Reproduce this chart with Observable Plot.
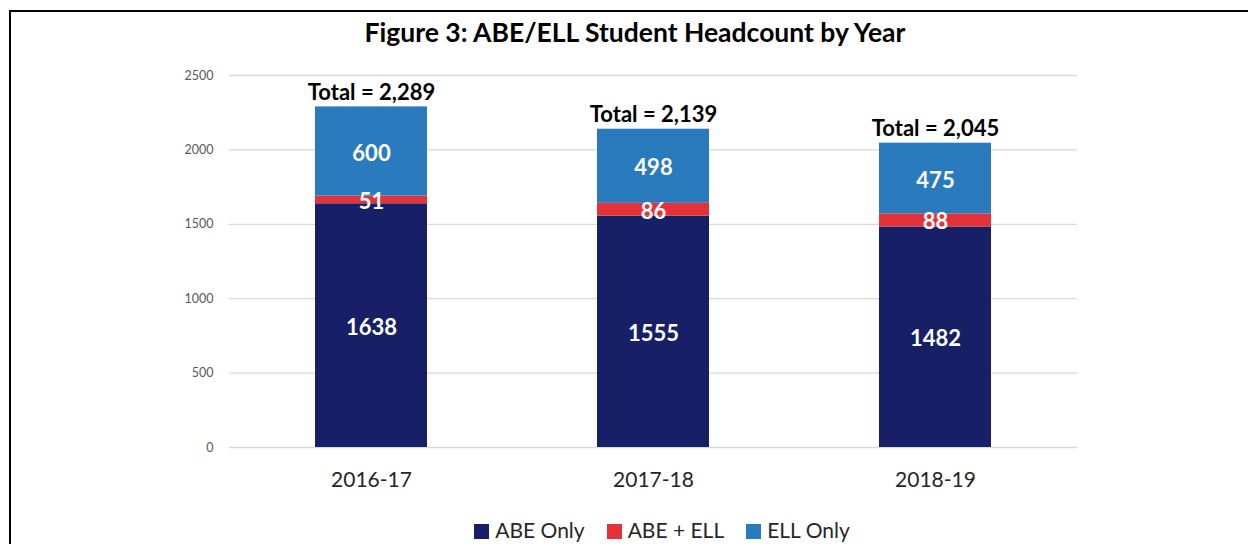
<!DOCTYPE html>
<html>
<head>
<meta charset="utf-8">
<script src="https://cdn.jsdelivr.net/npm/d3@7"></script>
<script src="https://cdn.jsdelivr.net/npm/@observablehq/plot@0.6"></script>
<style>
  html, body { margin: 0; padding: 0; background: #fff; overflow: hidden; }
  #wrap { position: relative; width: 1248px; height: 544px; overflow: hidden; font-family: Lato, "Open Sans", sans-serif; }
  #frame { position: absolute; left: 9px; top: 10px; width: 1300px; height: 600px; border: 2px solid #000; box-sizing: border-box; }
  #title { position: absolute; left: 0; width: 1270px; top: 16px; text-align: center; font-weight: bold; font-size: 26.5px; color: #000; }
  #chart { position: absolute; left: 0; top: 0; }
  #legend { position: absolute; left: 0; width: 1324px; top: 517px; text-align: center; font-size: 21px; color: #262626; }
  #legend span.item { margin: 0 11px; white-space: nowrap; }
  #legend span.sw { display: inline-block; width: 15px; height: 15px; margin-right: 6px; vertical-align: -1px; }
</style>
</head>
<body>
<div id="wrap">
  <div id="frame"></div>
  <div id="chart"></div>
  <div id="title">Figure 3: ABE/ELL Student Headcount by Year</div>
  <div id="legend"></div>
</div>
<script>
const years = ["2016-17", "2017-18", "2018-19"];
const series = ["ABE Only", "ABE + ELL", "ELL Only"];
const abeOnly = [1638, 1555, 1482];
const abeEll = [51, 86, 88];
const ellOnly = [600, 498, 475];
const totals = [2289, 2139, 2045];
const totalLabels = ["Total = 2,289", "Total = 2,139", "Total = 2,045"];
const yTicks = [0, 500, 1000, 1500, 2000, 2500];
const colors = ["#172066", "#E5323A", "#2A7BBE"];

const data = [];
years.forEach((y, i) => {
  data.push({year: y, series: series[0], value: abeOnly[i]});
  data.push({year: y, series: series[1], value: abeEll[i]});
  data.push({year: y, series: series[2], value: ellOnly[i]});
});
const totalData = years.map((y, i) => ({year: y, total: totals[i], label: totalLabels[i]}));

const W = 1248, H = 492;
const chart = Plot.plot({
  width: W,
  height: H,
  marginLeft: 229,
  marginRight: 171,
  marginTop: 75,
  marginBottom: H - 447,
  style: {fontFamily: "Lato, 'Open Sans', sans-serif", background: "transparent"},
  x: {domain: years, paddingInner: 0.604, paddingOuter: 0.302, label: null},
  y: {domain: [0, 2500], label: null},
  color: {domain: series, range: colors},
  marks: [
    Plot.ruleY(yTicks, {stroke: "#d9d9d9", strokeWidth: 1.3}),
    Plot.axisY({ticks: yTicks, tickFormat: d => String(d), tickSize: 0, tickPadding: 16, fontSize: 12.5, color: "#595959", label: null}),
    Plot.axisX({tickSize: 0, tickPadding: 25, fontSize: 21, color: "#262626", label: null}),
    Plot.barY(data, {x: "year", y: "value", fill: "series", order: series}),
    Plot.text(data, Plot.stackY({x: "year", y: "value", z: "series", order: series, text: d => String(d.value), dy: 2, fill: "white", fontWeight: "bold", fontSize: 22})),
    Plot.text(totalData, {x: "year", y: "total", text: "label", dy: -14, fontWeight: "bold", fontSize: 22, fill: "#000"})
  ]
});
document.getElementById("chart").appendChild(chart);

const legend = document.getElementById("legend");
series.forEach((s, i) => {
  const item = document.createElement("span");
  item.className = "item";
  const sw = document.createElement("span");
  sw.className = "sw";
  sw.style.background = colors[i];
  item.appendChild(sw);
  item.appendChild(document.createTextNode(s));
  legend.appendChild(item);
});
</script>
</body>
</html>
